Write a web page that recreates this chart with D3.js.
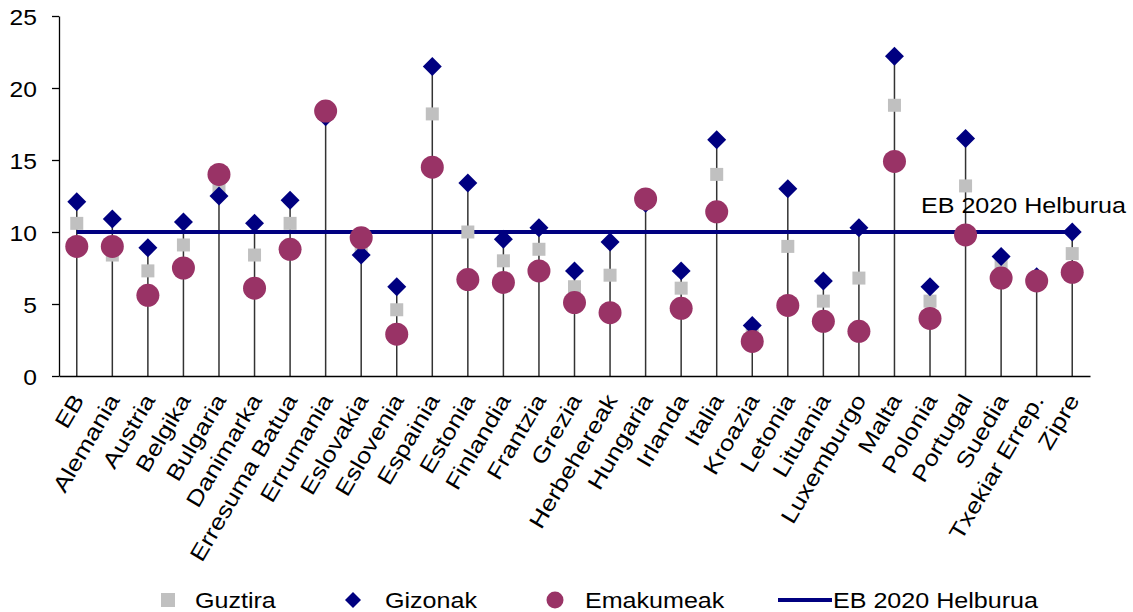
<!DOCTYPE html>
<html>
<head>
<meta charset="utf-8">
<script src="https://cdn.jsdelivr.net/npm/d3@7"></script>
<style>
  html, body { margin: 0; padding: 0; background: #fff; }
  svg { display: block; font-family: "Liberation Sans", Arial, sans-serif; }
</style>
</head>
<body>
<svg id="chart" width="1133" height="612"></svg>
<script>
const categories = ["EB", "Alemania", "Austria", "Belgika", "Bulgaria", "Danimarka", "Erresuma Batua",
  "Errumania", "Eslovakia", "Eslovenia", "Espainia", "Estonia", "Finlandia", "Frantzia", "Grezia",
  "Herbehereak", "Hungaria", "Irlanda", "Italia", "Kroazia", "Letonia", "Lituania", "Luxemburgo",
  "Malta", "Polonia", "Portugal", "Suedia", "Txekiar Errep.", "Zipre"];
const guztira   = [10.6, 8.4, 7.3, 9.1, 13.1, 8.4, 10.6, 18.2, 9.0, 4.6, 18.2, 10.0, 8.0, 8.8, 6.2,
  7.0, 12.2, 6.1, 14.0, 2.9, 9.0, 5.2, 6.8, 18.8, 5.2, 13.2, 7.9, 6.7, 8.5];
const gizonak   = [12.1, 10.9, 8.9, 10.7, 12.5, 10.6, 12.2, 18.0, 8.4, 6.2, 21.5, 13.4, 9.5, 10.3, 7.3,
  9.3, 12.0, 7.3, 16.4, 3.5, 13.0, 6.6, 10.3, 22.2, 6.2, 16.5, 8.3, 6.9, 10.0];
const emakumeak = [9.0, 9.0, 5.6, 7.5, 14.0, 6.1, 8.8, 18.4, 9.6, 2.9, 14.5, 6.7, 6.5, 7.3, 5.1,
  4.4, 12.3, 4.7, 11.4, 2.4, 4.9, 3.8, 3.1, 14.9, 4.0, 9.8, 6.8, 6.6, 7.2];
const helburua  = categories.map(() => 10);
const yTicks = [0, 5, 10, 15, 20, 25];
const seriesNames = ["Guztira", "Gizonak", "Emakumeak", "EB 2020 Helburua"];

const COL_GRAY = "#c0c0c0", COL_NAVY = "#000080", COL_WINE = "#993366";
const SX = 1.12; // horizontal text stretch seen in the reference

const svg = d3.select("#chart");
const x = d3.scaleBand().domain(categories).range([59, 1090]).padding(0);
const y = d3.scaleLinear().domain([0, 25]).range([376, 16]);
const cx = c => x(c) + x.bandwidth() / 2;

// Y axis
const yAxis = svg.append("g").attr("transform", "translate(59,0)")
  .call(d3.axisLeft(y).tickValues(yTicks).tickSize(7).tickSizeOuter(0).tickFormat(d3.format("d")));
yAxis.select(".domain").attr("stroke", "#000").attr("stroke-width", 1.3);
yAxis.selectAll(".tick line").attr("stroke", "#000").attr("stroke-width", 1.3);
yAxis.selectAll(".tick text")
  .attr("x", 0).attr("dy", "0.36em")
  .attr("transform", `translate(-22,1) scale(${SX},1)`)
  .attr("text-anchor", "end")
  .attr("font-size", 22).attr("fill", "#000")
  .attr("font-family", "'Liberation Sans', Arial, sans-serif");

// stems
const rows = categories.map((c, i) => ({ c, g: guztira[i], m: gizonak[i], w: emakumeak[i], t: helburua[i] }));
svg.append("g").selectAll("line").data(rows).join("line")
  .attr("x1", d => cx(d.c)).attr("x2", d => cx(d.c))
  .attr("y1", y(0)).attr("y2", d => y(Math.max(d.g, d.m, d.w)))
  .attr("stroke", "#333").attr("stroke-width", 1.5);

// X axis
const xAxis = svg.append("g").attr("transform", `translate(0,${y(0)})`)
  .call(d3.axisBottom(x).tickSize(0).tickSizeOuter(0));
xAxis.select(".domain").attr("stroke", "#000").attr("stroke-width", 1.3);
xAxis.selectAll(".tick text")
  .attr("x", 0).attr("y", 0).attr("dy", 0)
  .attr("transform", `translate(8,24) rotate(-59.5) scale(1.19,1)`)
  .attr("text-anchor", "end")
  .attr("font-size", 22).attr("fill", "#000")
  .attr("font-family", "'Liberation Sans', Arial, sans-serif");

// target line
svg.append("path").datum(rows)
  .attr("d", d3.line().x(d => cx(d.c)).y(d => y(d.t)))
  .attr("fill", "none").attr("stroke", COL_NAVY).attr("stroke-width", 4);

// markers
const sq = d3.symbol(d3.symbolSquare, 169)();
const dm = d3.symbol(d3.symbolSquare, 180)();
svg.append("g").selectAll("path").data(rows).join("path")
  .attr("d", sq).attr("transform", d => `translate(${cx(d.c)},${y(d.g)})`).attr("fill", COL_GRAY);
svg.append("g").selectAll("path").data(rows).join("path")
  .attr("d", dm).attr("transform", d => `translate(${cx(d.c)},${y(d.m)}) rotate(45)`).attr("fill", COL_NAVY);
svg.append("g").selectAll("circle").data(rows).join("circle")
  .attr("cx", d => cx(d.c)).attr("cy", d => y(d.w)).attr("r", 11.5).attr("fill", COL_WINE);

// annotation
svg.append("text").attr("transform", `translate(921,${y(10) - 19}) scale(1.14,1)`)
  .attr("font-size", 22).attr("fill", "#000").text(seriesNames[3]);

// legend
const ly = 600;
const leg = svg.append("g");
leg.append("path").attr("d", d3.symbol(d3.symbolSquare, 196)()).attr("transform", `translate(168,${ly})`).attr("fill", COL_GRAY);
leg.append("path").attr("d", d3.symbol(d3.symbolSquare, 128)()).attr("transform", `translate(353,${ly}) rotate(45)`).attr("fill", COL_NAVY);
leg.append("circle").attr("cx", 555).attr("cy", ly).attr("r", 8.5).attr("fill", COL_WINE);
leg.append("line").attr("x1", 778).attr("x2", 832).attr("y1", ly).attr("y2", ly).attr("stroke", COL_NAVY).attr("stroke-width", 4);
[[195, seriesNames[0]], [385, seriesNames[1]], [585, seriesNames[2]], [833, seriesNames[3]]].forEach(([lx, t]) => {
  leg.append("text").attr("transform", `translate(${lx},${ly + 8}) scale(1.14,1)`)
    .attr("font-size", 22).attr("fill", "#000").text(t);
});
</script>
</body>
</html>
